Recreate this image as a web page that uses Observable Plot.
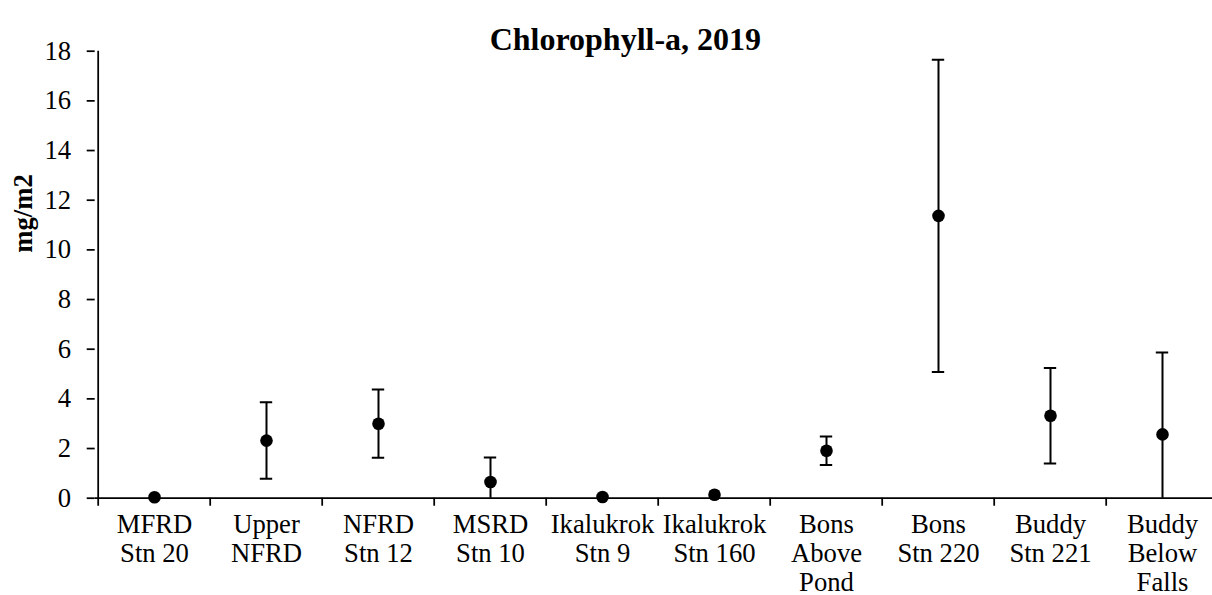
<!DOCTYPE html>
<html>
<head>
<meta charset="utf-8">
<script src="https://cdn.jsdelivr.net/npm/d3@7"></script>
<script src="https://cdn.jsdelivr.net/npm/@observablehq/plot@0.6"></script>
<style>
  html, body { margin: 0; padding: 0; background: #fff; }
  #chart { width: 1212px; height: 595px; overflow: hidden; }
  #chart svg text { font-family: 'Liberation Serif', 'Times New Roman', Times, serif; }
</style>
</head>
<body>
<div id="chart"></div>
<script>
// ---- data ----
const title = "Chlorophyll-a, 2019";
const yLabel = "mg/m2";
const categories = [
  "MFRD\nStn 20", "Upper\nNFRD", "NFRD\nStn 12", "MSRD\nStn 10", "Ikalukrok\nStn 9",
  "Ikalukrok\nStn 160", "Bons\nAbove\nPond", "Bons\nStn 220", "Buddy\nStn 221", "Buddy\nBelow\nFalls"
];
const means = [0.04, 2.32, 3.00, 0.65, 0.05, 0.14, 1.91, 11.37, 3.32, 2.57];
const sds   = [0,    1.54, 1.375, 0.99, 0,    0,    0.57, 6.29,  1.92, 3.30];
const yTicks = [0, 2, 4, 6, 8, 10, 12, 14, 16, 18];

const rows = categories.map((c, i) => ({cat: c, mean: means[i], sd: sds[i]}));
const withErr = rows.filter(d => d.sd > 0);

// ---- layout ----
const W = 1212, H = 595;
const mLeft = 94.7, mTop = 50.7, mBottom = 97.3, plotRight = 1221;
const mRight = W - plotRight;
const bw = (plotRight - mLeft) / categories.length;
const font = "'Liberation Serif', 'Times New Roman', Times, serif";
const fs = 26.67;

const chart = Plot.plot({
  width: W,
  height: H,
  marginLeft: mLeft,
  marginRight: mRight,
  marginTop: mTop,
  marginBottom: mBottom,
  style: {fontFamily: font, fontSize: fs + "px", color: "#000", background: "#fff"},
  x: {type: "band", domain: categories, padding: 0, axis: null},
  y: {domain: [0, 18], axis: null},
  marks: [
    Plot.axisY({ticks: yTicks, tickSize: 8, tickPadding: 16, label: null, fontSize: fs, fontFamily: font, strokeWidth: 1.75}),
    // y axis line (with little tick below origin)
    Plot.ruleX([categories[0]], {x: d => d, dx: -bw / 2, y1: 18, y2: 0, insetBottom: -8, stroke: "#000", strokeWidth: 1.75}),
    // category boundary ticks
    Plot.ruleX(categories.slice(1), {x: d => d, dx: -bw / 2, y1: 0, y2: 0, insetBottom: -8, stroke: "#000", strokeWidth: 1.75}),
    // x axis line
    Plot.ruleY([0], {stroke: "#000", strokeWidth: 1.75}),
    // error bars
    Plot.ruleX(withErr, {x: "cat", y1: d => d.mean - d.sd, y2: d => d.mean + d.sd, stroke: "#000", strokeWidth: 2, clip: true}),
    Plot.tickY(withErr, {x: "cat", y: d => d.mean + d.sd, stroke: "#000", strokeWidth: 2, insetLeft: bw / 2 - 6.5, insetRight: bw / 2 - 6.5, clip: true}),
    Plot.tickY(withErr, {x: "cat", y: d => d.mean - d.sd, stroke: "#000", strokeWidth: 2, insetLeft: bw / 2 - 6.5, insetRight: bw / 2 - 6.5, clip: true}),
    // points
    Plot.dot(rows, {x: "cat", y: "mean", r: 6.3, fill: "#000", stroke: null}),
    // x category labels
    Plot.text(categories, {x: d => d, y: 0, text: d => d, lineAnchor: "top", dy: 14, lineHeight: 1.0875, fontSize: fs, fontFamily: font, fill: "#000"}),
    // title
    Plot.text([title], {text: d => d, frameAnchor: "top", dx: -33, dy: -24, fontSize: 32, fontFamily: font, fontWeight: "bold", fill: "#000"}),
    // y label
    Plot.text([yLabel], {text: d => d, frameAnchor: "left", rotate: -90, dx: 23 - mLeft, dy: -22, fontSize: fs, fontFamily: font, fontWeight: "bold", fill: "#000"})
  ]
});
document.getElementById("chart").appendChild(chart);
</script>
</body>
</html>
